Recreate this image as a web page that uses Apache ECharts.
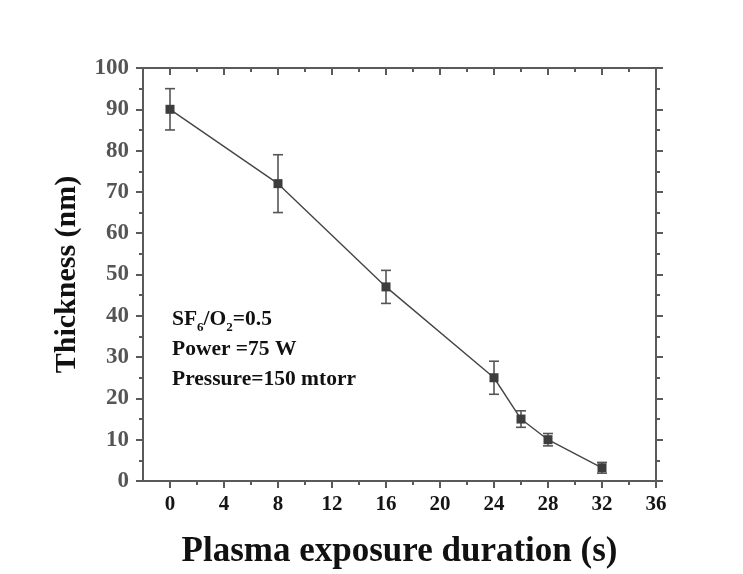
<!DOCTYPE html>
<html>
<head>
<meta charset="utf-8">
<script src="https://cdn.jsdelivr.net/npm/echarts@6/dist/echarts.min.js"></script>
<style>
  html, body { margin: 0; padding: 0; background: #ffffff; }
  #chart { width: 743px; height: 574px; }
</style>
</head>
<body>
<div id="chart"></div>
<script>
// Film thickness versus plasma exposure time
const exposureTime = [0, 8, 16, 24, 26, 28, 32];
const thickness = [90, 72, 47, 25, 15, 10, 3.2];
const thicknessError = [5, 7, 4, 4, 2, 1.5, 1.3];

// Axis ticks
const xMajorTicks = [0, 4, 8, 12, 16, 20, 24, 28, 32, 36];
const xMinorTicks = [2, 6, 10, 14, 18, 22, 26, 30, 34];

const serif = "'Liberation Serif', 'Times New Roman', serif";
const axisColor = '#5a5a5a';
const lineColor = '#454545';

const points = exposureTime.map((t, i) => [t, thickness[i]]);
const bars = exposureTime.map((t, i) => [t, thickness[i] - thicknessError[i], thickness[i] + thicknessError[i]]);

function xAxisDef(position, ticks, len, inside, withLabels) {
  return {
    type: 'value', position: position, min: -2, max: 36,
    axisLine: { show: withLabels || position === 'top', onZero: false, lineStyle: { color: axisColor, width: 2 } },
    axisTick: { show: true, customValues: ticks, length: len, inside: inside, lineStyle: { color: axisColor, width: 2 } },
    axisLabel: withLabels ? {
      customValues: xMajorTicks, margin: 13, color: '#151515',
      fontFamily: serif, fontWeight: 'bold', fontSize: 21
    } : { show: false },
    splitLine: { show: false }
  };
}

const chart = echarts.init(document.getElementById('chart'), null, { renderer: 'canvas' });
const option = {
  backgroundColor: '#ffffff',
  animation: false,
  grid: { left: 143, right: 87, top: 68, bottom: 92, containLabel: false },
  xAxis: [
    Object.assign(xAxisDef('bottom', xMajorTicks, 7, false, true), {
      name: 'Plasma exposure duration (s)', nameLocation: 'middle', nameGap: 53,
      nameTextStyle: { fontFamily: serif, fontWeight: 'bold', fontSize: 35, color: '#111' }
    }),
    xAxisDef('bottom', xMinorTicks, 4, false, false),
    xAxisDef('top', xMajorTicks, 7, true, false),
    xAxisDef('top', xMinorTicks, 4, true, false)
  ],
  yAxis: [
    {
      type: 'value', position: 'left', min: 0, max: 100, interval: 10,
      name: 'Thickness (nm)', nameLocation: 'middle', nameGap: 61,
      nameTextStyle: { fontFamily: serif, fontWeight: 'bold', fontSize: 30, color: '#111' },
      axisLine: { show: true, onZero: false, lineStyle: { color: axisColor, width: 2 } },
      axisTick: { show: true, length: 7, lineStyle: { color: axisColor, width: 2 } },
      minorTick: { show: true, splitNumber: 2, length: 4, lineStyle: { color: axisColor, width: 2 } },
      axisLabel: { margin: 14, color: '#555', fontFamily: serif, fontWeight: 'bold', fontSize: 23 },
      splitLine: { show: false }, minorSplitLine: { show: false }
    },
    {
      type: 'value', position: 'right', min: 0, max: 100, interval: 10,
      axisLine: { show: true, onZero: false, lineStyle: { color: axisColor, width: 2 } },
      axisTick: { show: true, length: 7, lineStyle: { color: axisColor, width: 2 } },
      minorTick: { show: true, splitNumber: 2, length: 4, lineStyle: { color: axisColor, width: 2 } },
      axisLabel: { show: false },
      splitLine: { show: false }, minorSplitLine: { show: false }
    }
  ],
  graphic: [{
    type: 'text', left: 172, top: 308,
    style: {
      text: '{b|SF}{sub|6}{b|/O}{sub|2}{b|=0.5}\n{b|Power =75 W}\n{b|Pressure=150 mtorr}',
      fill: '#111',
      rich: {
        b: { fontFamily: serif, fontWeight: 'bold', fontSize: 21.5, lineHeight: 30, fill: '#111' },
        sub: { fontFamily: serif, fontWeight: 'bold', fontSize: 13, lineHeight: 13, verticalAlign: 'bottom', fill: '#111' }
      }
    }
  }],
  series: [
    {
      type: 'custom', xAxisIndex: 0, yAxisIndex: 0, data: bars, z: 3,
      renderItem: function (params, api) {
        const x = api.value(0);
        const lo = api.coord([x, api.value(1)]);
        const hi = api.coord([x, api.value(2)]);
        const half = 5;
        const style = { stroke: '#555', lineWidth: 1.6 };
        return {
          type: 'group',
          children: [
            { type: 'line', shape: { x1: lo[0], y1: lo[1], x2: hi[0], y2: hi[1] }, style: style },
            { type: 'line', shape: { x1: lo[0] - half, y1: lo[1], x2: lo[0] + half, y2: lo[1] }, style: style },
            { type: 'line', shape: { x1: hi[0] - half, y1: hi[1], x2: hi[0] + half, y2: hi[1] }, style: style }
          ]
        };
      }
    },
    {
      type: 'line', xAxisIndex: 0, yAxisIndex: 0, data: points, z: 4,
      symbol: 'rect', symbolSize: 9,
      itemStyle: { color: '#3d3d3d' },
      lineStyle: { color: lineColor, width: 1.4 }
    }
  ]
};
chart.setOption(option);
</script>
</body>
</html>
